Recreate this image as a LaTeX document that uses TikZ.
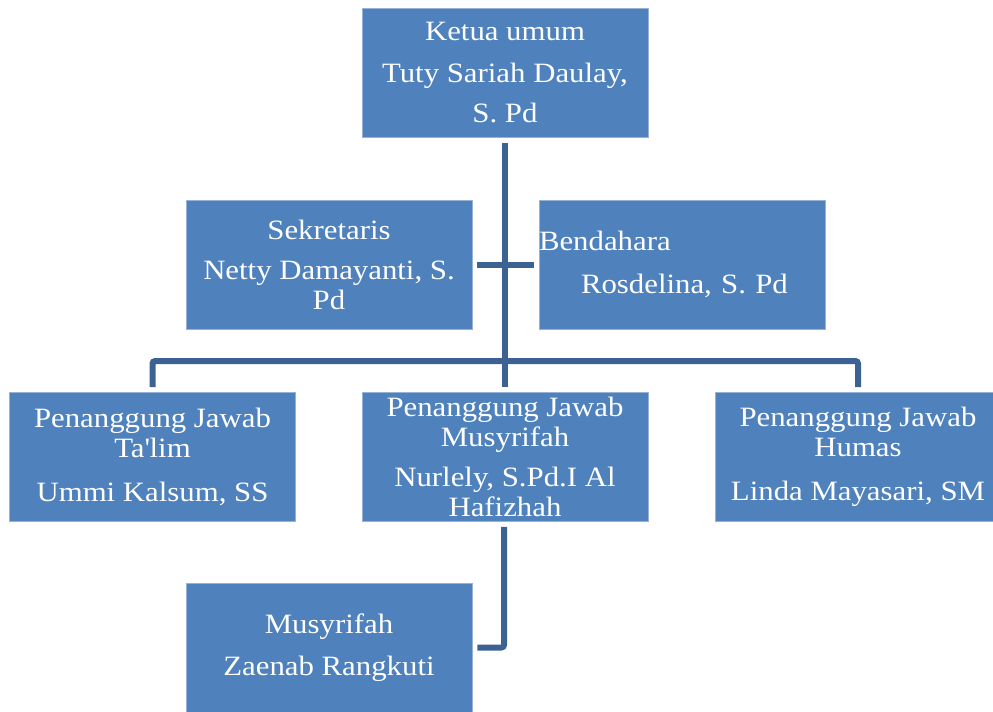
\documentclass[tikz,border=0pt]{standalone}
\usepackage{fontspec}
\setmainfont{Liberation Serif}[FakeStretch=1.1]
\usepackage{tikz}
\usetikzlibrary{calc}
\definecolor{boxblue}{HTML}{4F81BD}
\definecolor{linkblue}{HTML}{3B6292}

\begin{document}
\begin{tikzpicture}[x=0.75pt,y=-0.75pt,
    orgbox/.style={fill=boxblue,draw=boxblue!60!white,line width=0.4pt,text=white,
        minimum width=214.5pt,minimum height=97pt,inner sep=0pt,align=center,
        font=\fontsize{21}{22.5}\selectfont},
    link/.style={draw=linkblue,line width=4.5pt,rounded corners=2pt}]
    \useasboundingbox (0,0) rectangle (993,711);
    % boxes
    \node[orgbox] (ketua) at (505,72.5) {Ketua umum\\[9pt]Tuty Sariah Daulay,\\[7.5pt]S. Pd};
    \node[orgbox] (sekre) at (329,264.5) {Sekretaris\\[7.5pt]Netty Damayanti, S.\\Pd};
    \node[orgbox,align=left,text width=214.5pt] (benda) at (682,264.5) {Bendahara\\[9.75pt]\hspace*{31.5pt}Rosdelina, S. Pd};
    \node[orgbox] (talim) at (152.5,457) {Penanggung Jawab\\Ta\textquotesingle lim\\[10.5pt]Ummi Kalsum, SS};
    \node[orgbox] (musy) at (505,457) {Penanggung Jawab\\Musyrifah\\[7.5pt]Nurlely, S.Pd.I Al\\Hafizhah};
    \node[orgbox] (humas) at (858,457) {Penanggung Jawab\\Humas\\[10.5pt]Linda Mayasari, SM};
    \node[orgbox] (anggota) at (329,647.5) {Musyrifah\\[9pt]Zaenab Rangkuti};
    % connectors
    \coordinate (bus) at (505,361);
    \draw[link] ($(ketua.south)+(0,6)$) -- ($(musy.north)+(0,-5)$);
    \draw[link] ($(talim.north)+(0,-5)$) |- (bus) -| ($(humas.north)+(0,-5)$);
    \draw[link] ($(sekre.east)+(5,0)$) -- ($(benda.west)+(-5,0)$);
    \draw[link] ($(musy.south)+(-1,5)$) |- ($(anggota.east)+(5,0)$);
\end{tikzpicture}
\end{document}
